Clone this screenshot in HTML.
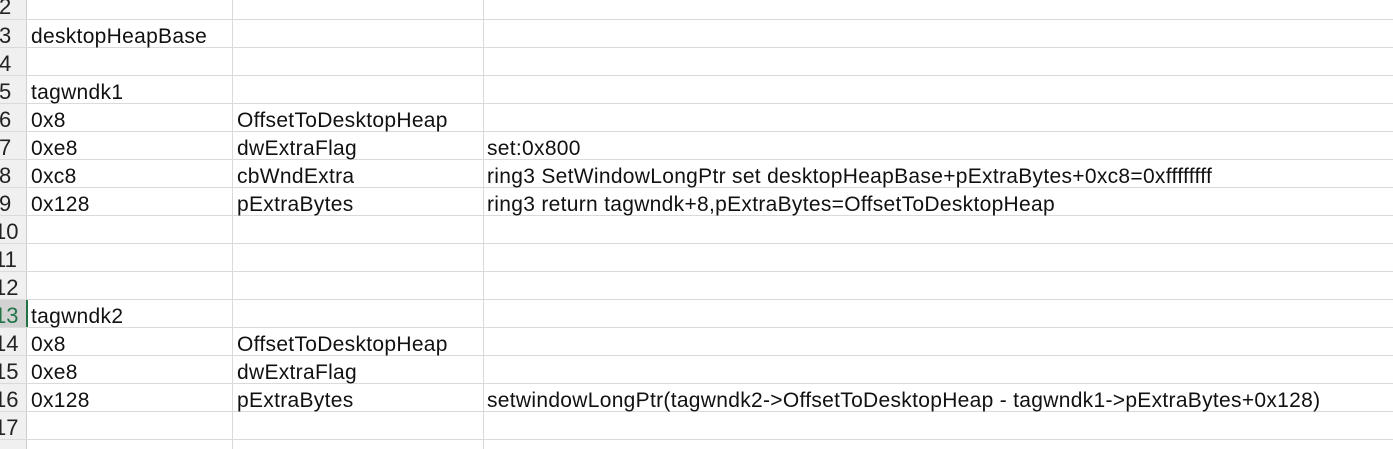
<!DOCTYPE html>
<html><head><meta charset="utf-8"><style>
html,body{margin:0;width:1393px;height:449px;overflow:hidden}
body{background:#fff;font-family:"Liberation Sans","Noto Sans CJK SC",sans-serif;position:relative}
.hdr{position:absolute;left:0;top:0;width:26px;height:449px;background:#f0f0f0;border-right:1px solid #cfcfcf}
.h{position:absolute;height:1px;left:0;width:1393px;background:#dadada}
.v{position:absolute;top:0;width:1px;height:449px;background:#dadada}
.t{position:absolute;font-size:21px;letter-spacing:0.3px;line-height:28px;color:#111;white-space:nowrap}
.n{position:absolute;font-size:22px;line-height:28px;color:#222;white-space:nowrap}
</style></head><body>
<div class="hdr"></div>
<div style="position:absolute;left:0;top:299px;width:26px;height:28px;background:#d2d2d2;border-right:2px solid #217346"></div>
<div class="v" style="left:232px"></div>
<div class="v" style="left:483px"></div>
<div class="h" style="top:19px"></div><div class="h" style="top:47px"></div><div class="h" style="top:75px"></div><div class="h" style="top:103px"></div><div class="h" style="top:131px"></div><div class="h" style="top:159px"></div><div class="h" style="top:187px"></div><div class="h" style="top:215px"></div><div class="h" style="top:243px"></div><div class="h" style="top:271px"></div><div class="h" style="top:299px"></div><div class="h" style="top:327px"></div><div class="h" style="top:355px"></div><div class="h" style="top:383px"></div><div class="h" style="top:411px"></div><div class="h" style="top:439px"></div>
<div class="n" style="left:-1px;top:-7px">2</div>
<div class="n" style="left:-1px;top:22px">3</div>
<div class="n" style="left:-1px;top:50px">4</div>
<div class="n" style="left:-1px;top:78px">5</div>
<div class="n" style="left:-1px;top:106px">6</div>
<div class="n" style="left:-1px;top:134px">7</div>
<div class="n" style="left:-1px;top:162px">8</div>
<div class="n" style="left:-1px;top:190px">9</div>
<div class="n" style="left:-6px;top:218px">10</div>
<div class="n" style="left:-6px;top:246px">11</div>
<div class="n" style="left:-6px;top:274px">12</div>
<div class="n" style="left:-6px;top:302px;color:#217346">13</div>
<div class="n" style="left:-6px;top:330px">14</div>
<div class="n" style="left:-6px;top:358px">15</div>
<div class="n" style="left:-6px;top:386px">16</div>
<div class="n" style="left:-6px;top:414px">17</div>
<div class="t" style="left:31px;top:23px">desktopHeapBase</div>
<div class="t" style="left:31px;top:79px">tagwndk1</div>
<div class="t" style="left:31px;top:107px">0x8</div>
<div class="t" style="left:237px;top:107px">OffsetToDesktopHeap</div>
<div class="t" style="left:31px;top:135px">0xe8</div>
<div class="t" style="left:237px;top:135px">dwExtraFlag</div>
<div class="t" style="left:487px;top:135px">set:0x800</div>
<div class="t" style="left:31px;top:163px">0xc8</div>
<div class="t" style="left:237px;top:163px">cbWndExtra</div>
<div class="t" style="left:487px;top:163px">ring3 SetWindowLongPtr set desktopHeapBase+pExtraBytes+0xc8=0xffffffff</div>
<div class="t" style="left:31px;top:191px">0x128</div>
<div class="t" style="left:237px;top:191px">pExtraBytes</div>
<div class="t" style="left:487px;top:191px">ring3 return tagwndk+8,pExtraBytes=OffsetToDesktopHeap</div>
<div class="t" style="left:31px;top:303px">tagwndk2</div>
<div class="t" style="left:31px;top:331px">0x8</div>
<div class="t" style="left:237px;top:331px">OffsetToDesktopHeap</div>
<div class="t" style="left:31px;top:359px">0xe8</div>
<div class="t" style="left:237px;top:359px">dwExtraFlag</div>
<div class="t" style="left:31px;top:387px">0x128</div>
<div class="t" style="left:237px;top:387px">pExtraBytes</div>
<div class="t" style="left:487px;top:387px">setwindowLongPtr(tagwndk2-&gt;OffsetToDesktopHeap - tagwndk1-&gt;pExtraBytes+0x128)</div>
</body></html>
